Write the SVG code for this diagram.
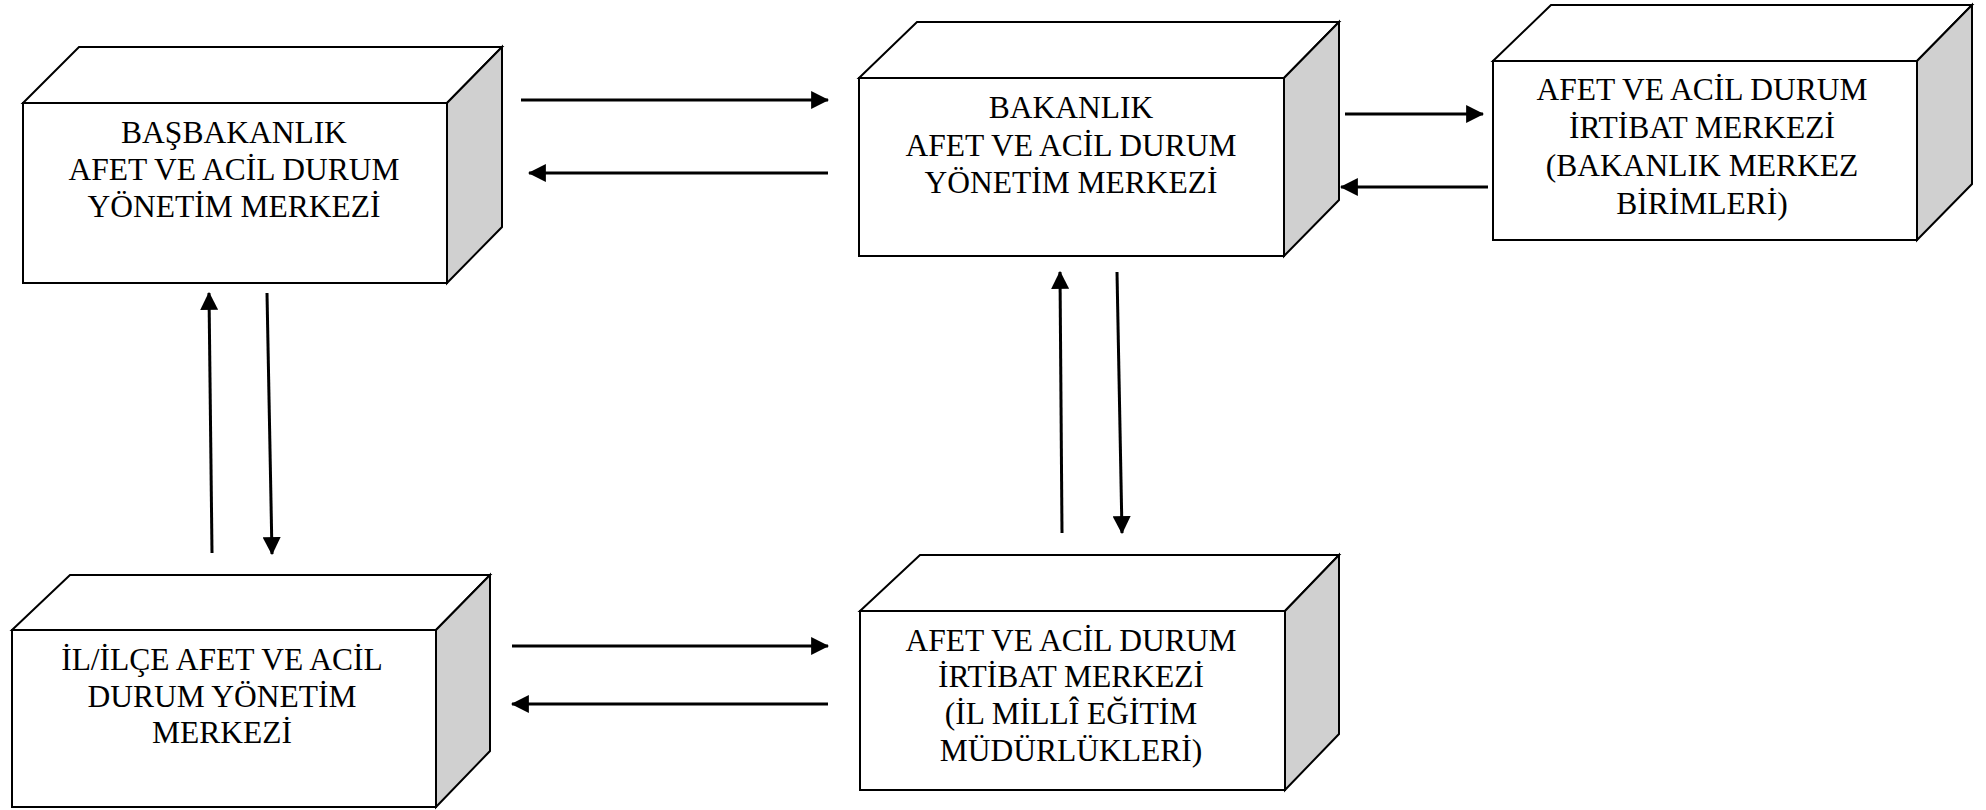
<svg xmlns="http://www.w3.org/2000/svg" width="1986" height="810" viewBox="0 0 1986 810">
<defs>
<style>
.face{fill:#ffffff;stroke:#000;stroke-width:2;stroke-linejoin:miter}
.side{fill:#d0d0d0;stroke:#000;stroke-width:2}
.lbl{font-family:"Liberation Serif","Times New Roman",serif;font-size:31.5px;fill:#000;text-anchor:middle}
.arr{stroke:#000;stroke-width:3;fill:none;marker-end:url(#ah)}
</style>
<marker id="ah" markerUnits="userSpaceOnUse" markerWidth="18" markerHeight="18" viewBox="0 0 16 16" refX="15" refY="8" orient="auto">
<polygon points="0,0 16,8 0,16" fill="#000"/>
</marker>
</defs>
<rect width="1986" height="810" fill="#fff"/>
<g id="node-basbakanlik">
<polygon class="face" points="23,103 79,47 502,47 447,103"/>
<polygon class="side" points="447,103 502,47 502,227 447,283"/>
<rect class="face" x="23" y="103" width="424" height="180"/>
<text class="lbl" x="234" y="143">BAŞBAKANLIK</text>
<text class="lbl" x="234" y="180">AFET VE ACİL DURUM</text>
<text class="lbl" x="234" y="217">YÖNETİM MERKEZİ</text>
</g>
<g id="node-bakanlik">
<polygon class="face" points="859,78 917,22 1339,22 1284,78"/>
<polygon class="side" points="1284,78 1339,22 1339,200 1284,256"/>
<rect class="face" x="859" y="78" width="425" height="178"/>
<text class="lbl" x="1071" y="118">BAKANLIK</text>
<text class="lbl" x="1071" y="156">AFET VE ACİL DURUM</text>
<text class="lbl" x="1071" y="193">YÖNETİM MERKEZİ</text>
</g>
<g id="node-bakanlik-merkez">
<polygon class="face" points="1493,61 1551,5 1972,5 1917,61"/>
<polygon class="side" points="1917,61 1972,5 1972,184 1917,240"/>
<rect class="face" x="1493" y="61" width="424" height="179"/>
<text class="lbl" x="1702" y="100">AFET VE ACİL DURUM</text>
<text class="lbl" x="1702" y="138">İRTİBAT MERKEZİ</text>
<text class="lbl" x="1702" y="176">(BAKANLIK MERKEZ</text>
<text class="lbl" x="1702" y="214">BİRİMLERİ)</text>
</g>
<g id="node-il-ilce">
<polygon class="face" points="12,630 70,575 490,575 436,630"/>
<polygon class="side" points="436,630 490,575 490,751 436,807"/>
<rect class="face" x="12" y="630" width="424" height="177"/>
<text class="lbl" x="222" y="670">İL/İLÇE AFET VE ACİL</text>
<text class="lbl" x="222" y="707">DURUM YÖNETİM</text>
<text class="lbl" x="222" y="743">MERKEZİ</text>
</g>
<g id="node-il-meb">
<polygon class="face" points="860,611 920,555 1339,555 1285,611"/>
<polygon class="side" points="1285,611 1339,555 1339,734 1285,790"/>
<rect class="face" x="860" y="611" width="425" height="179"/>
<text class="lbl" x="1071" y="651">AFET VE ACİL DURUM</text>
<text class="lbl" x="1071" y="687">İRTİBAT MERKEZİ</text>
<text class="lbl" x="1071" y="724">(İL MİLLÎ EĞİTİM</text>
<text class="lbl" x="1071" y="761">MÜDÜRLÜKLERİ)</text>
</g>
<g id="connectors">
<line class="arr" x1="521" y1="100" x2="828" y2="100"/>
<line class="arr" x1="828" y1="173" x2="529" y2="173"/>
<line class="arr" x1="1345" y1="114" x2="1483" y2="114"/>
<line class="arr" x1="1488" y1="187" x2="1341" y2="187"/>
<line class="arr" x1="512" y1="646" x2="828" y2="646"/>
<line class="arr" x1="828" y1="704" x2="512" y2="704"/>
<line class="arr" x1="212" y1="553" x2="209" y2="293"/>
<line class="arr" x1="267" y1="293" x2="272" y2="554"/>
<line class="arr" x1="1062" y1="533" x2="1060" y2="272"/>
<line class="arr" x1="1117" y1="272" x2="1122" y2="533"/>
</g>
</svg>
